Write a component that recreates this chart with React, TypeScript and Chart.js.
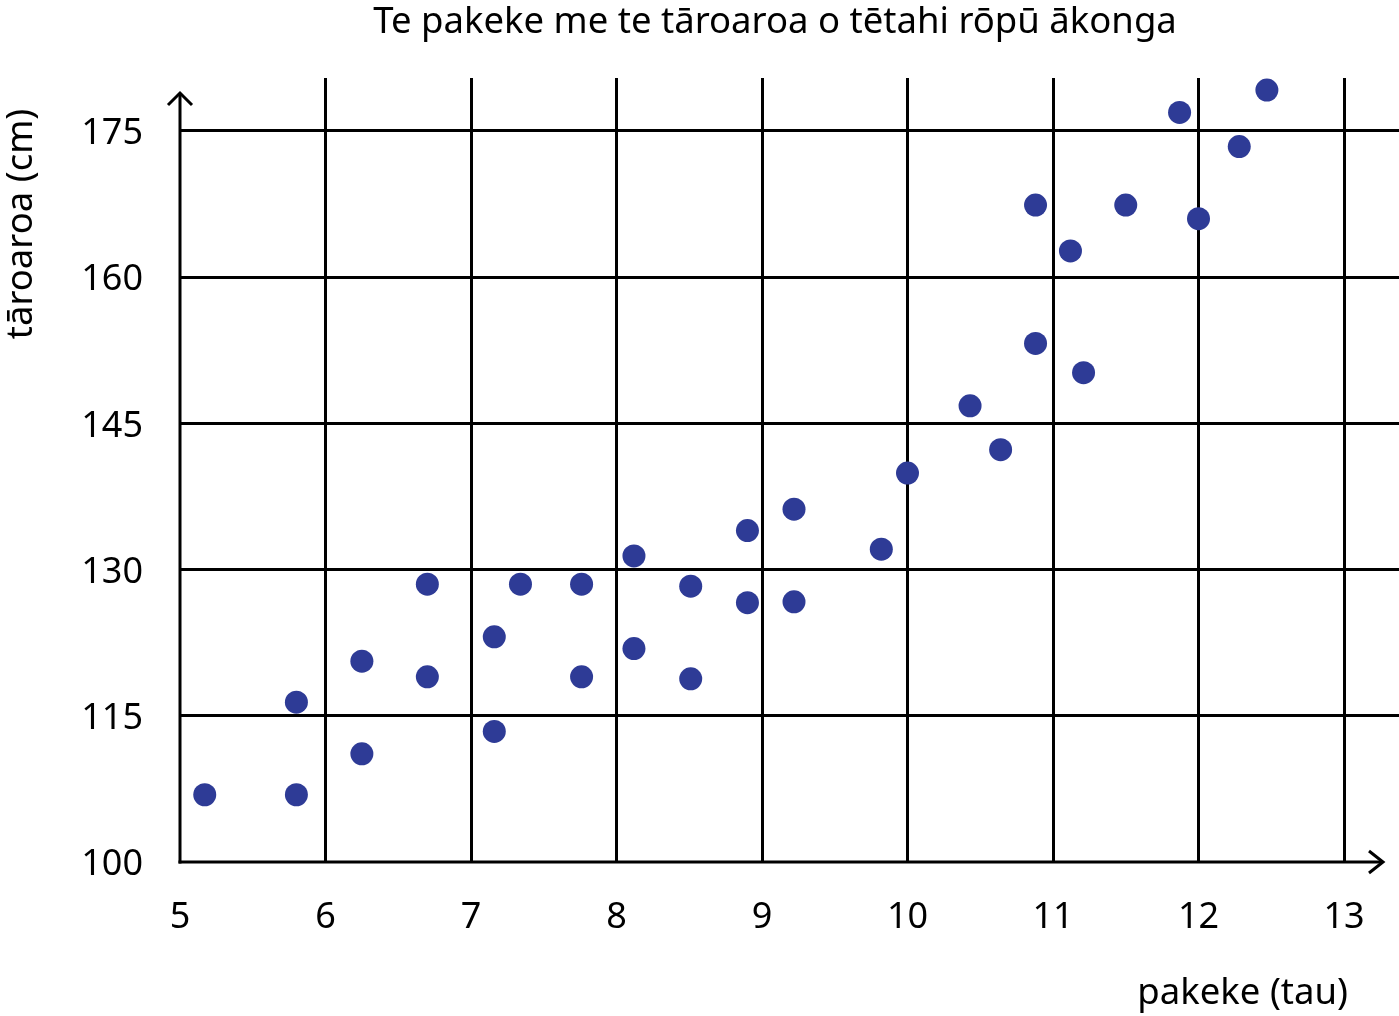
import React, { useEffect, useRef } from 'react';
import { Chart, registerables } from 'chart.js';

Chart.register(...registerables);

const TITLE = 'Te pakeke me te tāroaroa o tētahi rōpū ākonga';
const X_TITLE = 'pakeke (tau)';
const Y_TITLE = 'tāroaroa (cm)';

const xTicks = [5, 6, 7, 8, 9, 10, 11, 12, 13];
const yTicks = [100, 115, 130, 145, 160, 175];

const ages = [
  5.17, 5.8, 5.8, 6.25, 6.25, 6.7, 6.7, 7.16, 7.16, 7.34, 7.76, 7.76,
  8.12, 8.12, 8.51, 8.51, 8.9, 8.9, 9.22, 9.22, 9.82, 10.0, 10.43, 10.64,
  10.88, 10.88, 11.12, 11.21, 11.5, 11.87, 12.0, 12.28, 12.47,
];
const heights = [
  106.9, 106.9, 116.4, 120.6, 111.1, 128.5, 119.0, 123.1, 113.4, 128.5, 128.5, 119.0,
  131.4, 121.9, 128.3, 118.8, 134.0, 126.6, 136.2, 126.7, 132.1, 139.9, 146.8, 142.3,
  153.2, 167.4, 162.7, 150.2, 167.4, 176.9, 166.0, 173.4, 179.2,
];

const FONT = '"Noto Sans", "Open Sans", sans-serif';

const textPlugin = {
  id: 'customText',
  beforeDatasetsDraw(chart: any) {
    const ctx = chart.ctx;
    const xs = chart.scales.x;
    const ys = chart.scales.y;
    const x0 = xs.getPixelForValue(5);
    const y0 = ys.getPixelForValue(100);
    ctx.save();
    ctx.strokeStyle = '#000';
    ctx.lineWidth = 3;
    ctx.lineCap = 'butt';
    const yTop = 93;
    ctx.beginPath();
    ctx.moveTo(x0, y0 + 1.5);
    ctx.lineTo(x0, yTop);
    ctx.stroke();
    ctx.beginPath();
    ctx.moveTo(x0 - 12, yTop + 12);
    ctx.lineTo(x0, yTop);
    ctx.lineTo(x0 + 12, yTop + 12);
    ctx.stroke();
    const xEnd = 1383;
    ctx.beginPath();
    ctx.moveTo(x0 - 1.5, y0);
    ctx.lineTo(xEnd, y0);
    ctx.stroke();
    ctx.beginPath();
    ctx.moveTo(xEnd - 14, y0 - 11);
    ctx.lineTo(xEnd, y0);
    ctx.lineTo(xEnd - 14, y0 + 11);
    ctx.stroke();
    ctx.restore();
  },
  afterDraw(chart: any) {
    const ctx = chart.ctx;
    ctx.save();
    ctx.fillStyle = '#000';
    ctx.font = `36.5px ${FONT}`;
    ctx.textAlign = 'center';
    ctx.textBaseline = 'middle';
    ctx.fillText(TITLE, 775, 23);
    ctx.textAlign = 'right';
    ctx.fillText(X_TITLE, 1348, 994);
    ctx.translate(22, 224);
    ctx.rotate(-Math.PI / 2);
    ctx.textAlign = 'center';
    ctx.fillText(Y_TITLE, 0, 0);
    ctx.restore();
  },
};

export default function App() {
  const ref = useRef<HTMLCanvasElement | null>(null);

  useEffect(() => {
    document.body.style.margin = '0';
    const canvas = ref.current;
    if (!canvas) return;
    const chart = new Chart(canvas, {
      type: 'scatter',
      data: {
        datasets: [
          {
            data: ages.map((a, i) => ({ x: a, y: heights[i] })),
            backgroundColor: '#2e3b96',
            borderWidth: 0,
            pointRadius: 11.5,
            pointHoverRadius: 11.5,
            clip: false as any,
          },
        ],
      },
      options: {
        responsive: false,
        animation: false,
        devicePixelRatio: 1,
        layout: { autoPadding: false, padding: { top: 78, left: 0, right: 0, bottom: 0 } },
        plugins: {
          legend: { display: false },
          title: { display: false },
          tooltip: { enabled: false },
        },
        scales: {
          x: {
            type: 'linear',
            min: 5,
            max: 5 + (1399 - 180) / 145.5,
            afterBuildTicks: (s: any) => {
              s.ticks = xTicks.map((v) => ({ value: v }));
            },
            afterFit: (s: any) => {
              s.height = 1016 - 862;
              s.paddingLeft = 0;
              s.paddingRight = 0;
            },
            border: { display: false },
            grid: {
              color: (c: any) => (c.tick && c.tick.value === 5 ? 'rgba(0,0,0,0)' : '#000'),
              lineWidth: 3,
              drawTicks: false,
            },
            ticks: {
              color: '#000',
              font: { family: FONT, size: 36 },
              padding: 34,
              maxRotation: 0,
              autoSkip: false,
            },
          },
          y: {
            type: 'linear',
            min: 100,
            max: 100 + (862 - 78) / (731 / 75),
            afterBuildTicks: (s: any) => {
              s.ticks = yTicks.map((v) => ({ value: v }));
            },
            afterFit: (s: any) => {
              s.width = 180;
              s.paddingTop = 0;
              s.paddingBottom = 0;
            },
            border: { display: false },
            grid: {
              color: (c: any) => (c.tick && c.tick.value === 100 ? 'rgba(0,0,0,0)' : '#000'),
              lineWidth: 3,
              drawTicks: false,
            },
            ticks: {
              color: '#000',
              font: { family: FONT, size: 36 },
              padding: 37,
              labelOffset: 3,
              autoSkip: false,
            },
          },
        },
      },
      plugins: [textPlugin],
    });
    return () => chart.destroy();
  }, []);

  return (
    <div style={{ position: 'absolute', left: 0, top: 0, width: 1399, height: 1016, background: '#fff' }}>
      <canvas ref={ref} width={1399} height={1016} style={{ display: 'block' }} />
    </div>
  );
}
